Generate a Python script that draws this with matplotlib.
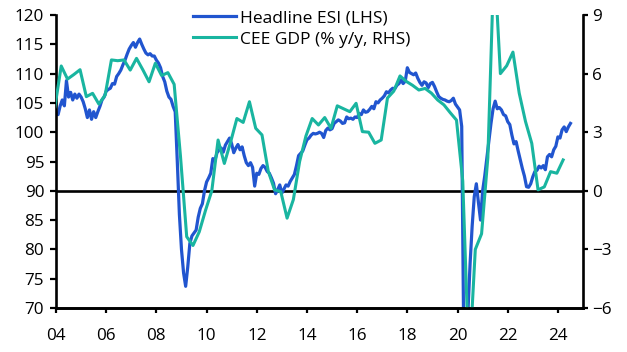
import numpy as np
import matplotlib
matplotlib.use("Agg")
import matplotlib.pyplot as plt

plt.rcParams['font.family'] = ['Open Sans', 'DejaVu Sans']

# Headline ESI, monthly from Jan 2004 (LHS)
esi_2004 = [103.2, 103.0, 104.5, 105.5, 104.5, 108.8, 106.0, 106.8, 105.5, 106.5, 105.8, 106.5]
esi_2005 = [106.0, 105.2, 104.0, 102.5, 103.8, 102.2, 103.5, 102.5, 103.5, 104.4, 105.5, 106.0]
esi_2006 = [107.0, 107.3, 107.5, 108.3, 108.2, 109.5, 110.0, 110.6, 111.5, 112.3, 113.3, 114.2]
esi_2007 = [114.8, 115.3, 114.5, 115.3, 115.9, 115.0, 114.2, 113.5, 113.2, 113.4, 113.0, 113.0]
esi_2008 = [112.3, 111.8, 111.0, 109.5, 108.6, 107.0, 106.0, 105.6, 104.4, 103.5, 95.0, 86.0]
esi_2009 = [80.0, 76.0, 73.7, 77.0, 81.0, 82.3, 82.8, 83.3, 85.5, 87.0, 87.8, 90.0]
esi_2010 = [91.5, 92.2, 93.0, 95.5, 95.2, 96.5, 97.0, 97.3, 96.6, 97.8, 98.4, 99.0]
esi_2011 = [98.0, 96.5, 97.3, 97.9, 97.0, 97.5, 96.0, 94.8, 94.3, 94.8, 94.0, 90.8]
esi_2012 = [93.0, 92.8, 93.8, 94.3, 94.0, 93.3, 93.0, 92.2, 91.3, 89.5, 90.2, 91.0]
esi_2013 = [89.6, 90.3, 91.0, 90.8, 91.6, 92.2, 92.8, 94.3, 96.0, 96.4, 96.8, 97.8]
esi_2014 = [98.7, 99.0, 99.5, 99.8, 99.7, 99.8, 100.0, 99.8, 99.1, 100.3, 100.7, 100.4]
esi_2015 = [100.6, 101.5, 101.8, 102.1, 101.9, 101.5, 101.6, 102.6, 102.3, 102.4, 102.2, 102.6]
esi_2016 = [102.5, 103.2, 103.0, 103.8, 103.4, 103.5, 103.9, 104.4, 104.0, 105.2, 105.0, 105.5]
esi_2017 = [105.8, 106.2, 106.9, 106.7, 107.2, 107.5, 107.4, 108.0, 108.3, 108.9, 108.3, 108.7]
esi_2018 = [111.0, 110.2, 110.0, 109.8, 110.1, 109.2, 108.5, 108.0, 108.6, 108.4, 107.6, 108.3]
esi_2019 = [108.5, 107.8, 106.9, 106.1, 105.8, 105.6, 105.5, 105.3, 105.2, 105.4, 105.8, 104.8]
esi_2020 = [104.3, 103.8, 101.0, 64.0, 63.0, 69.5, 77.5, 84.0, 89.0, 91.2, 88.0, 85.0]
esi_2021 = [90.0, 92.5, 95.5, 98.5, 101.5, 104.0, 105.3, 104.0, 104.2, 103.8, 103.0, 102.8]
esi_2022 = [101.8, 101.3, 99.5, 98.0, 98.4, 96.8, 95.3, 93.8, 92.5, 90.7, 90.6, 91.2]
esi_2023 = [92.4, 93.3, 93.5, 94.2, 93.9, 94.3, 93.6, 95.8, 96.2, 95.8, 97.0, 97.6]
esi_2024 = [99.2, 99.0, 100.4, 100.9, 100.1, 100.9, 101.5]

# CEE GDP % y/y, quarterly from 2003Q4 (RHS)
gdp = [4.3,
       6.39, 5.72, 5.95, 6.2,
       4.82, 4.99, 4.44, 4.9,
       6.7, 6.66, 6.7, 6.18,
       6.78, 6.2, 5.58, 6.53,
       5.9, 6.05, 5.45, 1.8,
       -2.35, -2.8, -2.1, -1.0,
       0.0, 2.6, 1.4, 2.5,
       3.7, 3.5, 4.56, 3.2,
       2.86, 1.0, 0.05, -0.05,
       -1.4, -0.45, 1.5, 2.8,
       3.7, 3.37, 3.75, 3.2,
       4.35, 4.2, 4.05, 4.48,
       3.03, 3.0, 2.43, 2.6,
       4.75, 5.1, 5.88, 5.6,
       5.4, 5.16, 5.24, 5.0,
       4.65, 4.4, 4.0, 3.62,
       0.5, -9.0, -3.0, -2.2,
       1.7, 12.0, 6.0, 6.4,
       7.1, 5.0, 3.55, 2.43,
       0.05, 0.2, 0.98, 0.9,
       1.58]

xticks = list(range(2004, 2025, 2))
xlabels = ['%02d' % (y % 100) for y in xticks]

esi = (esi_2004 + esi_2005 + esi_2006 + esi_2007 + esi_2008 + esi_2009 + esi_2010
       + esi_2011 + esi_2012 + esi_2013 + esi_2014 + esi_2015 + esi_2016 + esi_2017
       + esi_2018 + esi_2019 + esi_2020 + esi_2021 + esi_2022 + esi_2023 + esi_2024)
esi_x = 2004 + np.arange(len(esi)) / 12
gdp_x = 2003 + 11.5 / 12 + 0.25 * np.arange(len(gdp))  # last month of quarter

blue = '#2155cf'
teal = '#19b5a0'

fig = plt.figure(figsize=(6.27, 3.52), dpi=100)
ax = fig.add_axes([56 / 627, 1 - 308 / 352, 527 / 627, 293 / 352])
ax2 = ax.twinx()

l1, = ax.plot(esi_x, esi, color=blue, lw=2.3, label='Headline ESI (LHS)')
l2, = ax2.plot(gdp_x, gdp, color=teal, lw=2.2, label='CEE GDP (% y/y, RHS)')
ax.axhline(90, color='black', lw=1.9, zorder=1)

ax.set_xlim(2004, 2025)
ax.set_ylim(70, 120)
ax2.set_ylim(-6, 9)
ax.set_yticks(range(70, 121, 5))
ax2.set_yticks(range(-6, 10, 3))
ax.set_xticks(xticks)
ax.set_xticklabels(xlabels)

for a in (ax, ax2):
    a.spines['top'].set_visible(False)
    for s in ('left', 'right', 'bottom'):
        a.spines[s].set_linewidth(1.9)
ax.spines['right'].set_visible(False)
ax2.spines['left'].set_visible(False)

ax.tick_params(axis='y', direction='out', length=4.5, width=1.6, labelsize=12.3, pad=4)
ax.tick_params(axis='x', direction='out', length=3.5, width=1.6, labelsize=12.3, pad=11)
ax2.tick_params(axis='y', direction='out', length=3.8, width=1.6, labelsize=12.3, pad=3)

fig.legend(handles=[l1, l2], loc='upper left', bbox_to_anchor=(193 / 627, 1 - 10 / 352),
           frameon=False, fontsize=12.5, handlelength=2.5, handletextpad=0.2,
           labelspacing=0.3, borderpad=0, borderaxespad=0)

fig.savefig('out.png', dpi=100)
